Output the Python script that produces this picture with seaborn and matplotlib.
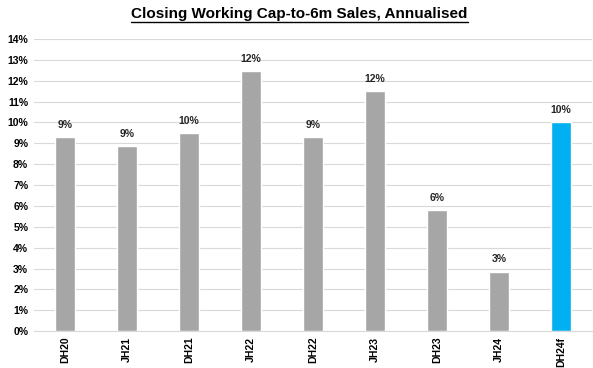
import matplotlib
matplotlib.use('Agg')
import matplotlib.pyplot as plt
import seaborn as sns
import pandas as pd

periods = ['DH20', 'JH21', 'DH21', 'JH22', 'DH22', 'JH23', 'DH23', 'JH24', 'DH24f']
values = [9.3, 8.85, 9.5, 12.45, 9.3, 11.5, 5.8, 2.85, 10.0]
bar_colors = ['#A6A6A6'] * 8 + ['#00B0F0']

df = pd.DataFrame({'period': periods, 'value': values})

sns.set_style('white')
plt.rcParams['font.family'] = ['Liberation Sans', 'DejaVu Sans']

fig, ax = plt.subplots(figsize=(5.93, 3.68), dpi=100)
sns.barplot(data=df, x='period', y='value', hue='period', palette=bar_colors,
            width=0.32, legend=False, ax=ax, saturation=1)

# labels over bars
for i, v in enumerate(values):
    ax.text(i, v + 0.35, f'{v:.0f}%', ha='center', va='bottom', fontsize=7.5, fontweight='bold', color='#262626')

ax.set_ylim(0, 14)
ax.set_xlim(-0.5, len(periods) - 0.5)
ax.set_yticks(range(0, 15))
ax.set_yticklabels([f'{t}%' for t in range(0, 15)], fontsize=7.5, fontweight='bold', color='black')
ax.set_xticks(range(len(periods)))
ax.set_xticklabels(periods, rotation=90, fontsize=7.5, fontweight='bold', color='black')
ax.tick_params(axis='both', length=0, pad=4)
ax.yaxis.grid(True, color='#D9D9D9', linewidth=0.8)
ax.set_axisbelow(True)
for s in ['top', 'right', 'left']:
    ax.spines[s].set_visible(False)
ax.spines['bottom'].set_color('#D9D9D9')
ax.set_xlabel('')
ax.set_ylabel('')

fig.suptitle('Closing Working Cap-to-6m Sales, Annualised', x=0.505, y=0.98,
             fontsize=11, fontweight='bold', color='black')
t = fig.texts[-1]
fig.subplots_adjust(left=0.057, right=0.998, top=0.894, bottom=0.1)

# underline the title
fig.canvas.draw()
bb = t.get_window_extent().transformed(fig.transFigure.inverted())
fig.add_artist(plt.Line2D([bb.x0, bb.x1], [bb.y0 - 0.002, bb.y0 - 0.002], color='black', linewidth=1.0, transform=fig.transFigure))

plt.savefig('out.png', dpi=100)
